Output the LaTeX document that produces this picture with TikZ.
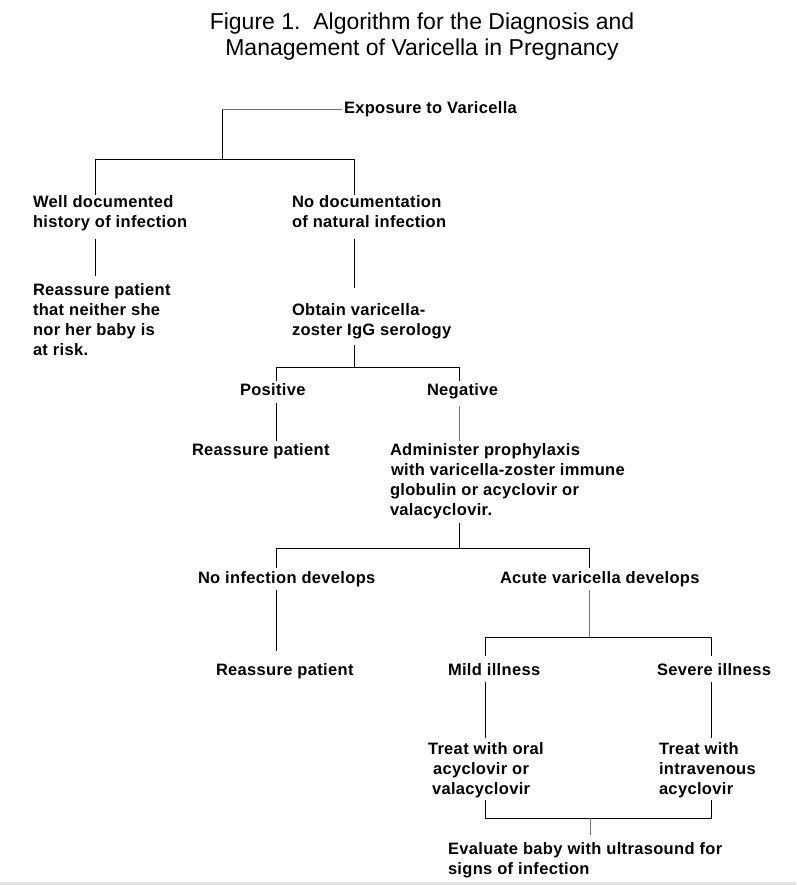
\documentclass[tikz,border=0pt]{standalone}
\usepackage{fontspec}
\setmainfont{Liberation Sans}
\newfontfamily\bodyfam[LetterSpace=2.0]{Liberation Sans}
\begin{document}
\begin{tikzpicture}[x=1pt,y=-1pt,
  lbl/.style={font=\bodyfam\bfseries\fontsize{16.5}{20}\selectfont, anchor=base west, align=left, inner sep=0pt, outer sep=0pt},
  ttl/.style={font=\fontsize{23}{26}\selectfont, anchor=base, align=center, inner sep=0pt},
  ln/.style={line width=1pt, black},
  lng/.style={line width=1pt, black!55}]
\path[use as bounding box] (0,0) rectangle (796,885);
\fill[black!12] (0,882) rectangle (796,885);

% base anchor = baseline of the last line
\node[ttl] (title) at (422,56) {Figure 1.\ \ Algorithm for the Diagnosis and\\Management of Varicella in Pregnancy};

\node[lbl] (exp) at (344,114) {Exposure to Varicella};
\node[lbl] (wd) at (33,227) {Well documented\\history of infection};
\node[lbl] (nd) at (292,227) {No documentation\\of natural infection};
\node[lbl] (rp1) at (33,355) {Reassure patient\\that neither she\\nor her baby is\\at risk.};
\node[lbl] (obt) at (292,335) {Obtain varicella-\\zoster IgG serology};
\node[lbl] (pos) at (240,395) {Positive};
\node[lbl] (neg) at (427,395) {Negative};
\node[lbl] (rp2) at (192,455) {Reassure patient};
\node[lbl] (adm) at (390,515) {Administer prophylaxis\\\hspace{1pt}with varicella-zoster immune\\globulin or acyclovir or\\valacyclovir.};
\node[lbl] (noinf) at (198,583) {No infection develops};
\node[lbl] (acute) at (500,583) {Acute varicella develops};
\node[lbl] (rp3) at (216,675) {Reassure patient};
\node[lbl] (mild) at (448,675) {Mild illness};
\node[lbl] (sev) at (657,675) {Severe illness};
\node[lbl] (tro) at (428,794) {Treat with oral\\\hspace{5pt}acyclovir or\\\hspace{4pt}valacyclovir};
\node[lbl] (tri) at (659,794) {Treat with\\intravenous\\acyclovir};
\node[lbl] (eval) at (448,874) {Evaluate baby with ultrasound for\\signs of infection};

% junctions
\coordinate (b1) at (222,160);
\coordinate (L1) at (95,160);
\coordinate (R1) at (354,160);
\coordinate (b2) at (354,367);
\coordinate (L2) at (276,367);
\coordinate (R2) at (459,367);
\coordinate (b3) at (459,548);
\coordinate (L3) at (276,548);
\coordinate (R3) at (589,548);
\coordinate (b4) at (589,637);
\coordinate (L4) at (485,637);
\coordinate (R4) at (711,637);
\coordinate (b5) at (590,818);
\coordinate (L5) at (485,818);
\coordinate (R5) at (711,818);

\draw[lng] ([xshift=-2pt]exp.west) -- (exp.west -| b1);
\draw[ln] (exp.west -| b1) -- (b1);
\draw[ln] (wd.north -| L1) -- (L1) -- (R1) -- (nd.north -| R1);
\draw[ln] ([yshift=-8.6pt]wd.south -| L1) -- ([yshift=7.4pt]rp1.north -| L1);
\draw[ln] ([yshift=-12pt]nd.south -| R1) -- ([yshift=15.4pt]obt.north -| R1);
\draw[ln] ([yshift=-6.6pt]obt.south -| b2) -- (b2);
\draw[ln] ([yshift=2pt]pos.north -| L2) -- (L2) -- (R2) -- ([yshift=2pt]neg.north -| R2);
\draw[ln] ([yshift=-8pt]pos.south -| L2) -- ([yshift=2.4pt]rp2.north -| L2);
\draw[lng] ([yshift=-7.6pt]neg.south -| R2) -- ([yshift=1.6pt]adm.north -| R2);
\draw[ln] ([yshift=-4.6pt]adm.south -| b3) -- (b3);
\draw[ln] ([yshift=3pt]noinf.north -| L3) -- (L3) -- (R3) -- ([yshift=3pt]acute.north -| R3);
\draw[ln] ([yshift=-3.6pt]noinf.south -| L3) -- ([yshift=12.4pt]rp3.north -| L3);
\draw[lng] ([yshift=-3.6pt]acute.south -| b4) -- (b4);
\draw[ln] ([yshift=7.4pt]mild.north -| L4) -- (L4) -- (R4) -- ([yshift=7.4pt]sev.north -| R4);
\draw[ln] ([yshift=-7pt]mild.south -| L4) -- ([yshift=4.4pt]tro.north -| L4);
\draw[ln] ([yshift=-7pt]sev.south -| R4) -- ([yshift=4.4pt]tri.north -| R4);
\draw[ln] ([yshift=-2.6pt]tro.south -| L5) -- (L5) -- (R5) -- ([yshift=-2.6pt]tri.south -| R5);
\draw[lng] (b5) -- ([yshift=7.4pt]eval.north -| b5);
\end{tikzpicture}
\end{document}
